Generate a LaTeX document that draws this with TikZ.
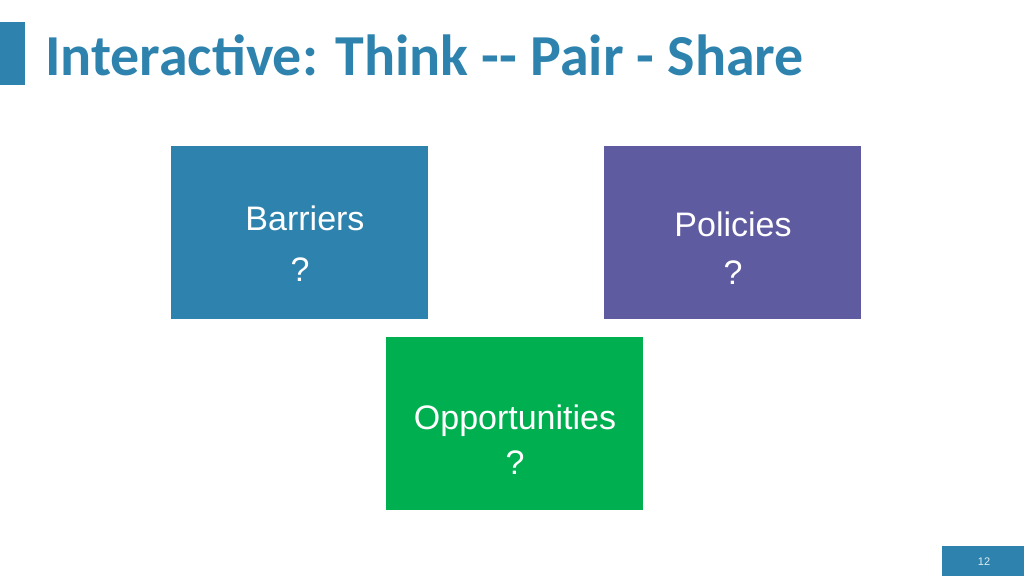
\documentclass[tikz,border=0pt]{standalone}
\usepackage{fontspec}
\setmainfont{Liberation Sans}
\newfontfamily\titlefont{Carlito}
\definecolor{tblue}{HTML}{2E83AE}
\definecolor{bpurple}{HTML}{5F5BA0}
\definecolor{bgreen}{HTML}{00B050}
\begin{document}
\begin{tikzpicture}[x=1pt,y=-1pt,
  card/.style={draw=none,anchor=north west,minimum width=257pt,minimum height=173pt},
  lbl/.style={text=white,font=\fontsize{34}{36}\selectfont,align=center}]
\useasboundingbox (0,0) rectangle (1024,576);
\fill[tblue] (0,22) rectangle (25,85);
\node[anchor=base west,inner sep=0,text=tblue,font=\titlefont\bfseries\fontsize{58}{60}\selectfont] (title) at (45,75) {Interactive: Think -- Pair - Share};
\node[card,fill=tblue] (b) at (171,146) {};
\node[card,fill=bpurple] (p) at (604,146) {};
\node[card,fill=bgreen] (o) at (386,337) {};
\node[lbl] (bt) at (305,218) {Barriers};
\node[lbl] (bq) at (300,270) {?};
\node[lbl] (pt) at (733,224) {Policies};
\node[lbl] (pq) at (733,273) {?};
\node[lbl] (ot) at (515,421) {Opportunities};
\node[lbl] (oq) at (515,463) {?};
\fill[tblue] (942,546) rectangle (1024,576);
\node[text=white!85!tblue,font=\fontsize{11}{12}\selectfont] (pg) at (984,562) {12};
\end{tikzpicture}
\end{document}
